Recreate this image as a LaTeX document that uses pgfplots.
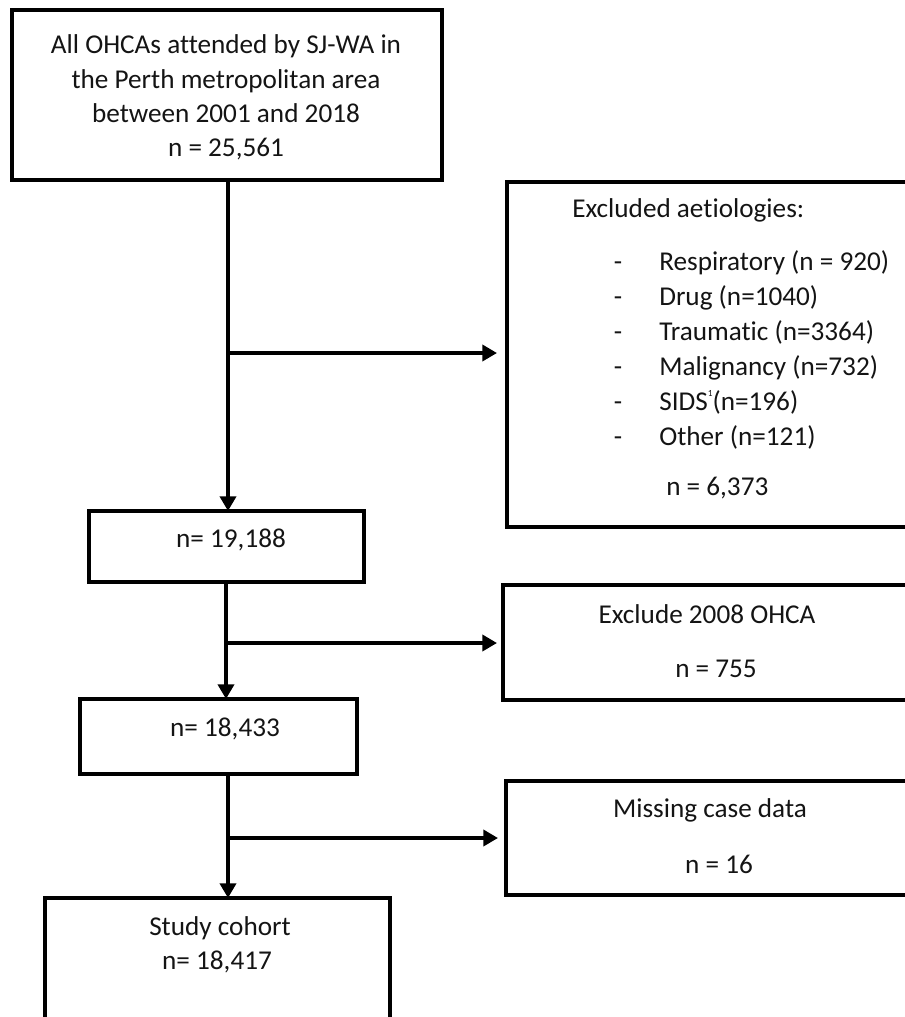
\documentclass[border=0pt]{standalone}
\usepackage{pgfplots}
\pgfplotsset{compat=1.18}
\usetikzlibrary{arrows.meta}
\usepackage{fontspec}
\setmainfont{Carlito}[Ligatures={NoCommon}]
\begin{document}
\begin{tikzpicture}[every node/.style={font=\fontsize{20.4}{24}\selectfont, inner sep=0pt, text=black!92},
  ln/.style={black, line width=3pt, mark=none, line join=miter, solid},
  ar/.style={ln, -{Triangle[length=11pt,width=12pt]}}]
\begin{axis}[hide axis, scale only axis, width=678pt, height=762.75pt,
  xmin=0, xmax=904, ymin=0, ymax=1017, y dir=reverse, clip=false]
% boxes
\addplot[ln] coordinates {(12,10) (442,10) (442,180) (12,180) (12,10) (442,10)};
\addplot[ln] coordinates {(906,182) (507,182) (507,527) (906,527)};
\addplot[ln] coordinates {(89,511) (364,511) (364,582) (89,582) (89,511) (364,511)};
\addplot[ln] coordinates {(906,585) (503,585) (503,700) (906,700)};
\addplot[ln] coordinates {(80,699) (357,699) (357,774) (80,774) (80,699) (357,699)};
\addplot[ln] coordinates {(906,781) (506,781) (506,895) (906,895)};
\addplot[ln] coordinates {(45,1025) (45,898) (390,898) (390,1025)};
% arrows
\addplot[ar] coordinates {(228,180) (228,511)};
\addplot[ar] coordinates {(228,353) (497,353)};
\addplot[ar] coordinates {(226,582) (226,699)};
\addplot[ar] coordinates {(226,643) (497,643)};
\addplot[ar] coordinates {(228,774) (228,898)};
\addplot[ar] coordinates {(228,838) (498,838)};
% texts
\node[anchor=base] at (axis cs:226,53) {All OHCAs attended by SJ-WA in};
\node[anchor=base] at (axis cs:226,88) {the Perth metropolitan area};
\node[anchor=base] at (axis cs:226,122) {between 2001 and 2018};
\node[anchor=base] at (axis cs:226,156) {n = 25,561};
\node[anchor=base west] at (axis cs:572,217) {Excluded aetiologies:};
\node[anchor=base] at (axis cs:618,270) {-};
\node[anchor=base] at (axis cs:618,305) {-};
\node[anchor=base] at (axis cs:618,340) {-};
\node[anchor=base] at (axis cs:618,375) {-};
\node[anchor=base] at (axis cs:618,410) {-};
\node[anchor=base] at (axis cs:618,445) {-};
\node[anchor=base west] at (axis cs:659,270) {Respiratory (n = 920)};
\node[anchor=base west] at (axis cs:659,305) {Drug (n=1040)};
\node[anchor=base west] at (axis cs:659,340) {Traumatic (n=3364)};
\node[anchor=base west] at (axis cs:659,375) {Malignancy (n=732)};
\node[anchor=base west] at (axis cs:659,410) {SIDS\raisebox{10pt}{\fontsize{7}{7}\selectfont 1}(n=196)};
\node[anchor=base west] at (axis cs:659,445) {Other (n=121)};
\node[anchor=base west] at (axis cs:666,495) {n = 6,373};
\node[anchor=base] at (axis cs:231,547) {n= 19,188};
\node[anchor=base] at (axis cs:707,623) {Exclude 2008 OHCA};
\node[anchor=base] at (axis cs:716,677) {n = 755};
\node[anchor=base] at (axis cs:225,736) {n= 18,433};
\node[anchor=base] at (axis cs:710,817) {Missing case data};
\node[anchor=base] at (axis cs:719,873) {n = 16};
\node[anchor=base] at (axis cs:220,935) {Study cohort};
\node[anchor=base] at (axis cs:217,969) {n= 18,417};
\coordinate (TL) at (axis cs:0,0);
\coordinate (BR) at (axis cs:904,1017);
\end{axis}
\pgfresetboundingbox
\useasboundingbox (TL) rectangle (BR);
\end{tikzpicture}
\end{document}
